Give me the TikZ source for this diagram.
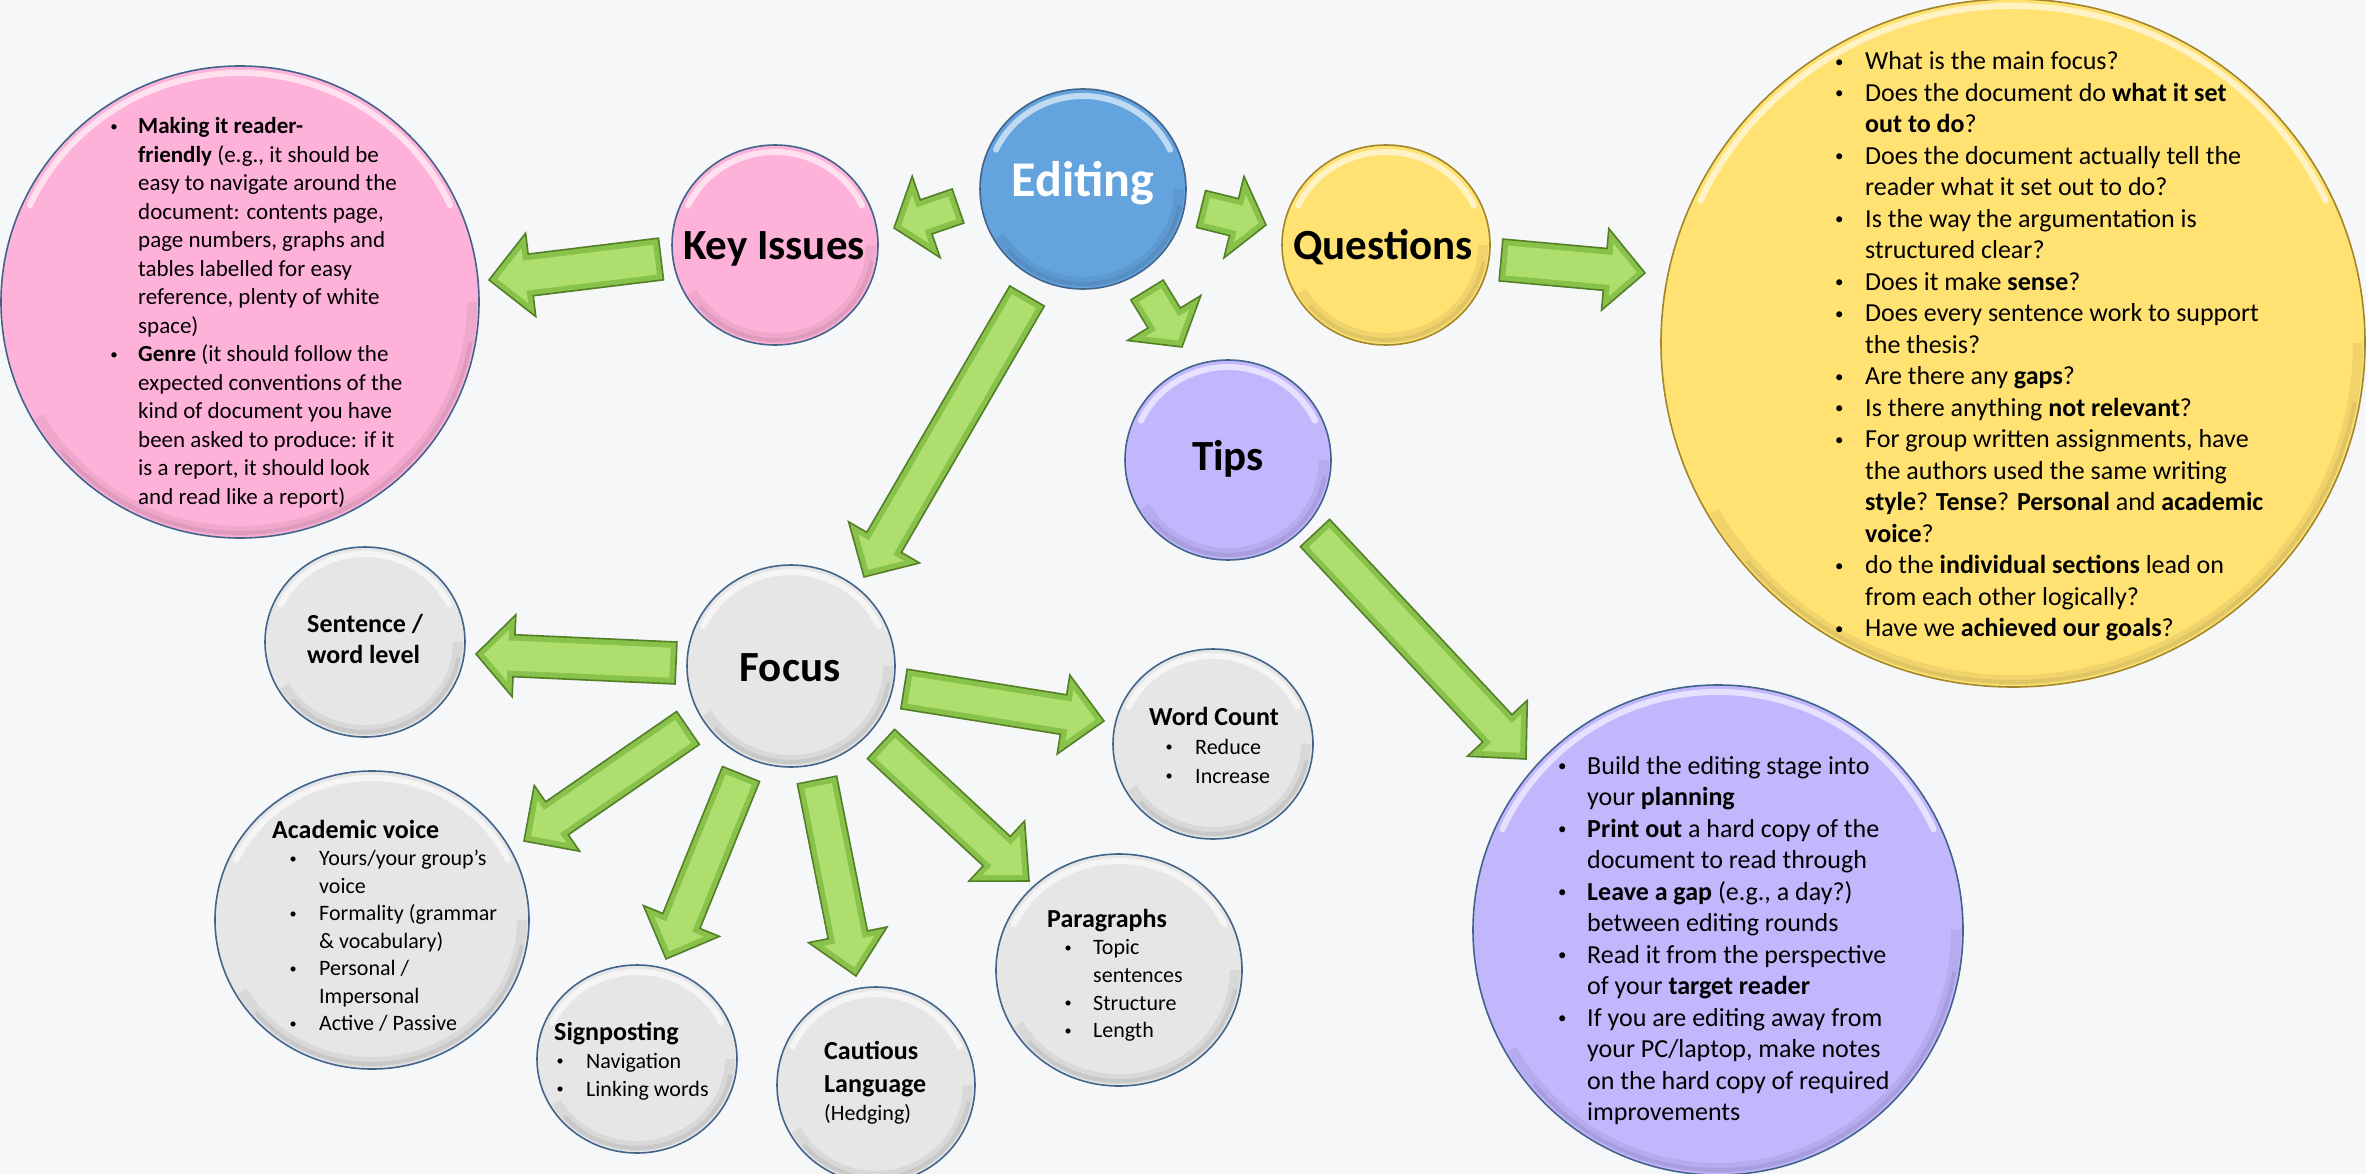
\documentclass[tikz,border=0pt]{standalone}
\usepackage{fontspec}
\usepackage{graphicx}
\setmainfont{Carlito}
\usetikzlibrary{calc,shapes.geometric}

\definecolor{bg}{HTML}{F5F7F9}
\definecolor{pinkf}{HTML}{FFB2D9}
\definecolor{bluef}{HTML}{63A3DE}
\definecolor{yellowf}{HTML}{FFE272}
\definecolor{purplef}{HTML}{C2B6FD}
\definecolor{grayf}{HTML}{E6E6E6}
\definecolor{rim}{HTML}{42648A}
\definecolor{rimy}{HTML}{A3852A}
\definecolor{gdark}{HTML}{557F26}
\definecolor{gmid}{HTML}{88C24A}
\definecolor{glight}{HTML}{AEDF6E}

\tikzset{
  bub/.style={ellipse, draw=rim, line width=1.6pt, inner sep=0pt},
  title/.style={font=\fontsize{43}{50}\selectfont\bfseries, inner sep=0pt, anchor=base},
  txt/.style={inner sep=0pt, anchor=base west},
}

% small bullet hung in the left skip, centred \bd to the left of the text
\newdimen\bd
\newcommand\dotb{\raisebox{0.1em}{\scalebox{0.65}{\textbullet}}}
\newcommand\bul{\noindent\llap{\hbox to 2\bd{\hss\dotb\hss}}}
% text block: left skip, bullet offset, size, line skip, content
\newcommand\txtblk[5]{%
  \vtop{\hsize=700pt\parindent=0pt\leftskip=#1pt\rightskip=0pt plus 1fil
    \parfillskip=0pt plus 1fil\bd=#2pt\fontsize{#3}{#4}\selectfont
    \lineskiplimit=-100pt\relax #5}}
% bold heading line, not indented
\newcommand\hd[2]{{\leftskip=0pt\noindent\fontsize{#1}{#1}\selectfont\textbf{#2}\par}}

% glossy bubble: [rim] name, cx, cy, rx, ry, fill
\newcommand\bubble[7][rim]{%
  \node[bub, draw=#1, fill=#7, minimum width={2*#5}, minimum height={2*#6}] (#2) at (#3,#4) {};
  \pgfmathsetmacro\ga{#5-7}\pgfmathsetmacro\gb{#6-7}%
  \pgfmathsetmacro\gc{#5-5}\pgfmathsetmacro\gd{#6-5}%
  \draw[white, opacity=.6, line width=6pt, line cap=round] (#2.center) ++(25:\ga pt and \gb pt)
     arc[start angle=25, end angle=155, x radius=\ga pt, y radius=\gb pt];
  \draw[black, opacity=.06, line width=10pt] (#2.center) ++(210:\ga pt and \gb pt)
     arc[start angle=210, end angle=360, x radius=\ga pt, y radius=\gb pt];
  \draw[black, opacity=.07, line width=4pt] (#2.center) ++(220:\gc pt and \gd pt)
     arc[start angle=220, end angle=350, x radius=\gc pt, y radius=\gd pt];
}

% bevelled block arrow: from, to, shaft half-width, head half-width, head length
\newcommand\garrow[5]{%
  \path[draw=gdark, line width=1.6pt, fill=gmid, line join=miter]
    let \p1=($(#2)-(#1)$), \n1={atan2(\y1,\x1)}, \n2={veclen(\x1,\y1)} in
    [shift={(#1)}, rotate=\n1]
    (0,#3) -- (\n2-#5,#3) -- (\n2-#5,#4) -- (\n2,0) -- (\n2-#5,-#4)
    -- (\n2-#5,-#3) -- (0,-#3) -- cycle;
  \path[fill=glight]
    let \p1=($(#2)-(#1)$), \n1={atan2(\y1,\x1)}, \n2={veclen(\x1,\y1)},
        \n3={6*sqrt(1+(#4/#5)^2)} in
    [shift={(#1)}, rotate=\n1]
    (6,#3-6) -- (\n2-#5+6,#3-6) -- (\n2-#5+6,{#4*(#5-6)/#5-\n3}) -- (\n2-\n3*#5/#4,0)
    -- (\n2-#5+6,{-#4*(#5-6)/#5+\n3}) -- (\n2-#5+6,-#3+6) -- (6,-#3+6) -- cycle;
}

\begin{document}
\begin{tikzpicture}[x=1pt,y=1pt]
\useasboundingbox (0,0) rectangle (2366,-1174);
\fill[bg] (0,0) rectangle (2366,-1174);

% bubbles
\bubble{keydetail}{240}{-302}{239}{236}{pinkf}
\bubble{keyissues}{775}{-245}{103}{100}{pinkf}
\bubble{editing}{1083}{-189}{103}{100}{bluef}
\bubble[rimy]{questions}{1386}{-245}{104}{100}{yellowf}
\bubble{tips}{1228}{-460}{103}{100}{purplef}
\bubble[rimy]{questdetail}{2013}{-343}{352}{344}{yellowf}
\bubble{tipdetail}{1718}{-930}{245}{245}{purplef}
\bubble{focus}{791}{-666}{104}{101}{grayf}
\bubble{sentence}{365}{-642}{100}{95}{grayf}
\bubble{wordcount}{1213}{-744}{100}{95}{grayf}
\bubble{academic}{372}{-920}{157}{149}{grayf}
\bubble{signposting}{637}{-1059}{100}{94}{grayf}
\bubble{cautious}{876}{-1085}{99}{98}{grayf}
\bubble{paragraphs}{1119}{-970}{123}{116}{grayf}

% titles
\node[title, text=white, font=\fontsize{50}{56}\selectfont\bfseries] (edtitle) at (1083,-197) {Editing};
\node[title] (kititle) at (774,-260) {Key Issues};
\node[title] (qutitle) at (1383,-260) {Questions};
\node[title] (tititle) at (1228,-470) {Tips};
\node[title] (fotitle) at (790,-681) {Focus};

% arrow ends
\coordinate (a1t) at (958,-206);  \coordinate (a1h) at (894,-228);
\coordinate (a2t) at (1201,-209); \coordinate (a2h) at (1266,-225);
\coordinate (a3t) at (1147,-290); \coordinate (a3h) at (1182,-347);
\coordinate (a4t) at (1027,-296); \coordinate (a4h) at (864,-577);
\coordinate (a5t) at (661,-259);  \coordinate (a5h) at (489,-280);
\coordinate (a6t) at (1501,-260); \coordinate (a6h) at (1645,-273);
\coordinate (a7t) at (1315,-533); \coordinate (a7h) at (1526,-759);
\coordinate (a8t) at (676,-663);  \coordinate (a8h) at (476,-654);
\coordinate (a9t) at (904,-689);  \coordinate (a9h) at (1104,-721);
\coordinate (a10t) at (688,-728); \coordinate (a10h) at (524,-841);
\coordinate (a11t) at (741,-774); \coordinate (a11h) at (666,-959);
\coordinate (a12t) at (817,-780); \coordinate (a12h) at (856,-976);
\coordinate (a13t) at (881,-744); \coordinate (a13h) at (1029,-881);

\garrow{a1t}{a1h}{18}{43}{34}
\garrow{a2t}{a2h}{19}{42}{33}
\garrow{a3t}{a3h}{19}{43}{34}
\garrow{a4t}{a4h}{20}{41}{40}
\garrow{a5t}{a5h}{21}{42}{42}
\garrow{a6t}{a6h}{21}{41}{40}
\garrow{a7t}{a7h}{20}{41}{42}
\garrow{a8t}{a8h}{21}{41}{38}
\garrow{a9t}{a9h}{20}{40}{41}
\garrow{a10t}{a10h}{20}{40}{40}
\garrow{a11t}{a11h}{20}{41}{41}
\garrow{a12t}{a12h}{20}{40}{42}
\garrow{a13t}{a13h}{20}{41}{44}

% texts
\node[txt] (kitext) at (98,-134) {\txtblk{40}{24}{23}{28.5}{%
\bul\textbf{Making it reader-}\newline\textbf{friendly} (e.g., it should be\newline easy to navigate around the\newline document: contents page,\newline page numbers, graphs and\newline tables labelled for easy\newline reference, plenty of white\newline space)\par
\bul\textbf{Genre} (it should follow the\newline expected conventions of the\newline kind of document you have\newline been asked to produce: if it\newline is a report, it should look\newline and read like a report)}};

\node[txt] (qutext) at (1825,-70) {\txtblk{40}{26}{26}{31.5}{%
\bul What is the main focus?\par
\bul Does the document do \textbf{what it set}\newline\textbf{out to do}?\par
\bul Does the document actually tell the\newline reader what it set out to do?\par
\bul Is the way the argumentation is\newline structured clear?\par
\bul Does it make \textbf{sense}?\par
\bul Does every sentence work to support\newline the thesis?\par
\bul Are there any \textbf{gaps}?\par
\bul Is there anything \textbf{not relevant}?\par
\bul For group written assignments, have\newline the authors used the same writing\newline\textbf{style}? \textbf{Tense}? \textbf{Personal} and \textbf{academic}\newline\textbf{voice}?\par
\bul do the \textbf{individual sections} lead on\newline from each other logically?\par
\bul Have we \textbf{achieved our goals}?}};

\node[txt] (titext) at (1547,-774) {\txtblk{40}{25}{26}{31.5}{%
\bul Build the editing stage into\newline your \textbf{planning}\par
\bul\textbf{Print out} a hard copy of the\newline document to read through\par
\bul\textbf{Leave a gap} (e.g., a day?)\newline between editing rounds\par
\bul Read it from the perspective\newline of your \textbf{target reader}\par
\bul If you are editing away from\newline your PC/laptop, make notes\newline on the hard copy of required\newline improvements}};

\node[txt] (setext) at (307,-632) {\txtblk{0}{0}{26}{31}{\bfseries Sentence /\newline word level}};
\node[txt] (wctext) at (1149,-725) {\txtblk{46}{26}{22}{29}{\hd{26}{Word Count}\bul Reduce\par\bul Increase}};
\node[txt] (actext) at (272,-838) {\txtblk{47}{26}{22}{27.5}{\hd{26}{Academic voice}%
\bul Yours/your group’s\newline voice\par\bul Formality (grammar\newline \& vocabulary)\par
\bul Personal /\newline Impersonal\par\bul Active / Passive}};
\node[txt] (sptext) at (554,-1040) {\txtblk{32}{26}{22}{28}{\hd{26}{Signposting}\bul Navigation\par\bul Linking words}};
\node[txt] (catext) at (824,-1059) {\txtblk{0}{0}{22}{28}{{\fontsize{26}{33}\selectfont\bfseries Cautious\newline Language\par}(Hedging)}};
\node[txt] (patext) at (1047,-927) {\txtblk{46}{25}{22}{27.7}{\hd{26}{Paragraphs}%
\bul Topic\newline sentences\par\bul Structure\par\bul Length}};
\end{tikzpicture}
\end{document}
